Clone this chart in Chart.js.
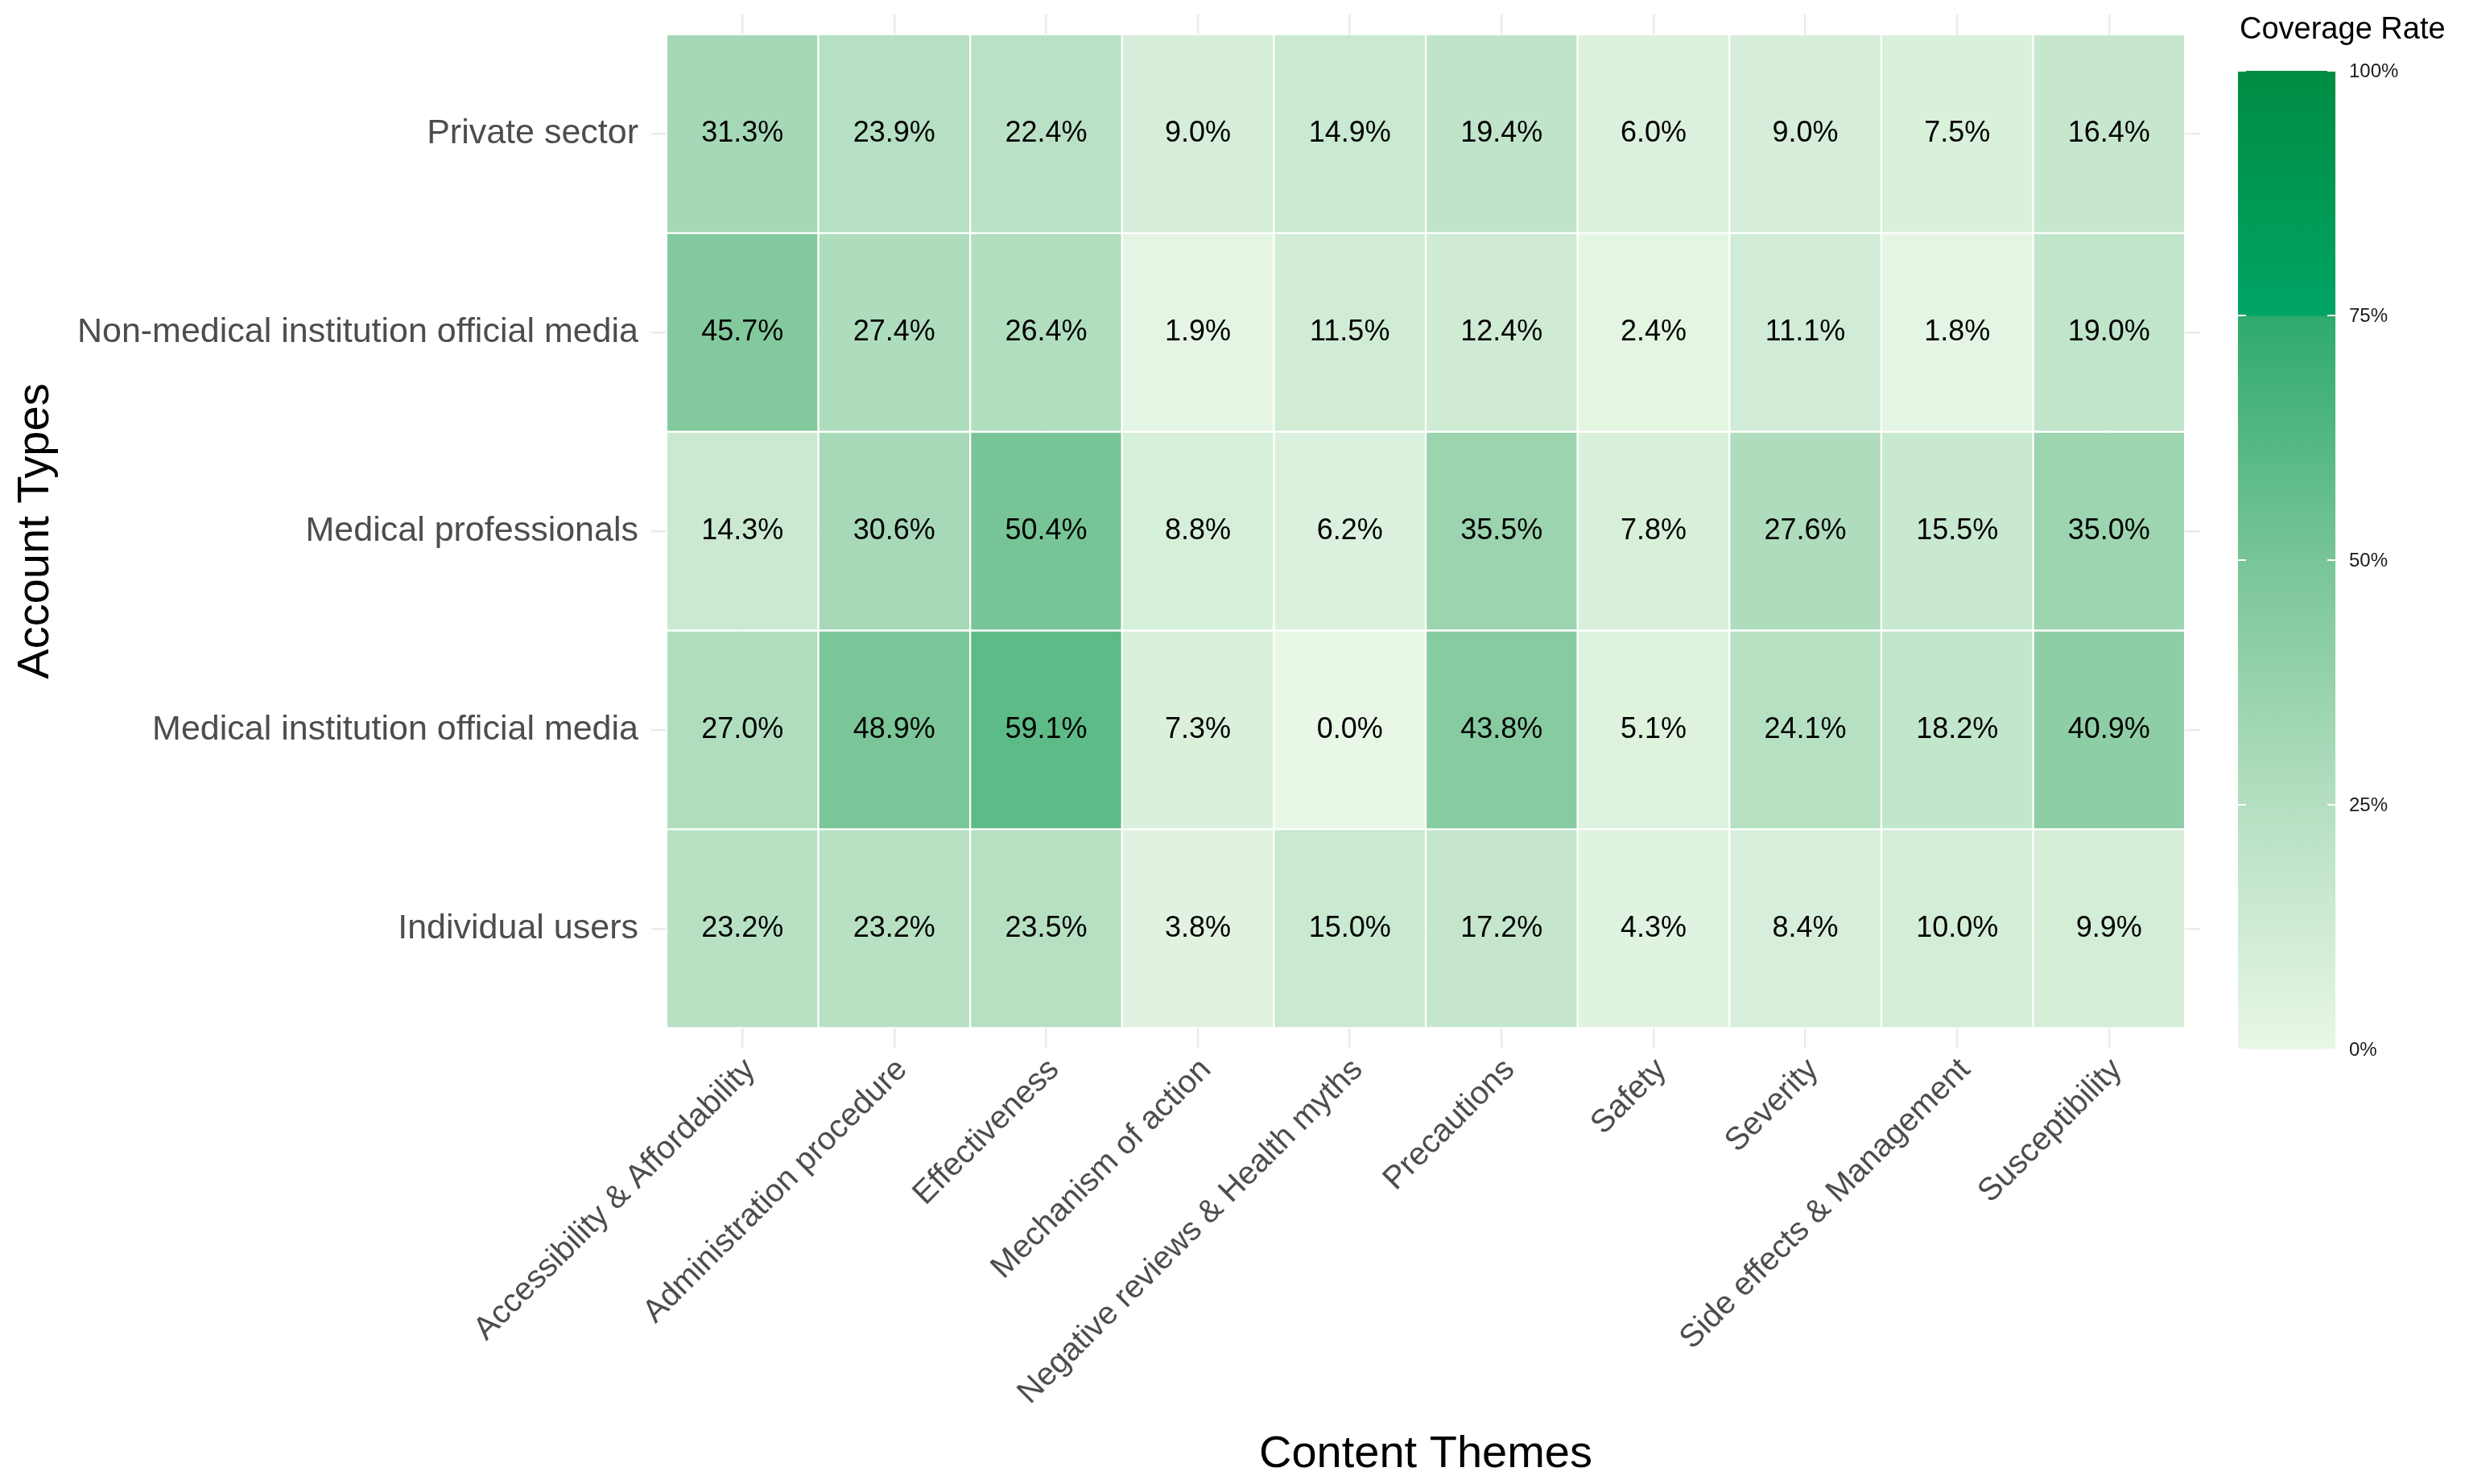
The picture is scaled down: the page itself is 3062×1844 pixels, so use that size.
<!DOCTYPE html>
<html>
<head>
<meta charset="utf-8">
<title>Coverage Rate by Account Type and Content Theme</title>
<script src="https://cdn.jsdelivr.net/npm/chart.js@4.4.1/dist/chart.umd.min.js"></script>
<style>
  html, body { margin: 0; padding: 0; background: #fff; }
  #wrap { width: 3062px; height: 1844px; }
</style>
</head>
<body>
<div id="wrap"><canvas id="heatmap" width="3062" height="1844"></canvas></div>
<script>
// x categories (left to right)
const themes = [
  'Accessibility & Affordability',
  'Administration procedure',
  'Effectiveness',
  'Mechanism of action',
  'Negative reviews & Health myths',
  'Precautions',
  'Safety',
  'Severity',
  'Side effects & Management',
  'Susceptibility'
];

// y categories (bottom to top)
const accountTypes = [
  'Individual users',
  'Medical institution official media',
  'Medical professionals',
  'Non-medical institution official media',
  'Private sector'
];

// coverage rate (%) per theme, one array per account type
const individualUsers       = [23.2, 23.2, 23.5, 3.8, 15.0, 17.2, 4.3, 8.4, 10.0, 9.9];
const medicalInstitution    = [27.0, 48.9, 59.1, 7.3, 0.0, 43.8, 5.1, 24.1, 18.2, 40.9];
const medicalProfessionals  = [14.3, 30.6, 50.4, 8.8, 6.2, 35.5, 7.8, 27.6, 15.5, 35.0];
const nonMedicalInstitution = [45.7, 27.4, 26.4, 1.9, 11.5, 12.4, 2.4, 11.1, 1.8, 19.0];
const privateSector         = [31.3, 23.9, 22.4, 9.0, 14.9, 19.4, 6.0, 9.0, 7.5, 16.4];

const rows = [individualUsers, medicalInstitution, medicalProfessionals, nonMedicalInstitution, privateSector];

// colour bar breaks (%)
const legendBreaks = [0, 25, 50, 75, 100];

const FONT = '"Liberation Sans", Arial, Helvetica, sans-serif';

// colour ramp (fraction 0..1 -> colour)
const rampStops = [
  [0, '#e9f7e6'],
  [0.25, '#b4dfc1'],
  [0.5, '#78c597'],
  [0.749, '#2eaa6c'],
  [0.75, '#00a464'],
  [1, '#008c42']
];

function hexToRgb(h) {
  return [parseInt(h.slice(1, 3), 16), parseInt(h.slice(3, 5), 16), parseInt(h.slice(5, 7), 16)];
}

function rampColor(f) {
  for (let i = 1; i < rampStops.length; i++) {
    const [f1, c1] = rampStops[i];
    const [f0, c0] = rampStops[i - 1];
    if (f <= f1) {
      const t = (f - f0) / (f1 - f0);
      const a = hexToRgb(c0), b = hexToRgb(c1);
      const rgb = a.map((v, k) => Math.round(v + (b[k] - v) * t));
      return 'rgb(' + rgb.join(',') + ')';
    }
  }
  return rampStops[rampStops.length - 1][1];
}

// percentage text inside every cell
const cellLabels = {
  id: 'cellLabels',
  afterDatasetsDraw(chart) {
    const ctx = chart.ctx;
    ctx.save();
    ctx.font = '36px ' + FONT;
    ctx.fillStyle = '#000';
    ctx.textAlign = 'center';
    ctx.textBaseline = 'middle';
    chart.data.datasets.forEach((ds, i) => {
      chart.getDatasetMeta(i).data.forEach((bar, j) => {
        const c = bar.getCenterPoint();
        ctx.fillText(rows[i][j].toFixed(1) + '%', c.x, c.y);
      });
    });
    ctx.restore();
  }
};

// continuous colour bar on the right
const colourBar = {
  id: 'colourBar',
  afterDraw(chart) {
    const ctx = chart.ctx;
    const left = 2780, width = 121, top = 88, bottom = 1304;
    ctx.save();
    const grad = ctx.createLinearGradient(0, bottom, 0, top);
    rampStops.forEach(([f, c]) => grad.addColorStop(f, c));
    ctx.fillStyle = grad;
    ctx.fillRect(left, top, width, bottom - top);

    ctx.font = '24px ' + FONT;
    ctx.textAlign = 'left';
    ctx.textBaseline = 'middle';
    legendBreaks.forEach(b => {
      const y = bottom - (b / 100) * (bottom - top);
      ctx.strokeStyle = '#ffffff';
      ctx.lineWidth = 2;
      ctx.beginPath();
      ctx.moveTo(left, y); ctx.lineTo(left + 10, y);
      ctx.moveTo(left + width - 10, y); ctx.lineTo(left + width, y);
      ctx.stroke();
      ctx.fillStyle = '#1a1a1a';
      ctx.fillText(b + '%', left + width + 17, y + 1);
    });

    ctx.font = '38px ' + FONT;
    ctx.fillStyle = '#000';
    ctx.fillText('Coverage Rate', 2782, 38);
    ctx.restore();
  }
};

const datasets = rows.map((values, r) => ({
  label: accountTypes[r],
  data: values.map((v, j) => ({ x: j + 1, y: [r + 0.5, r + 1.5] })),
  backgroundColor: values.map(v => rampColor(v / 100)),
  borderColor: '#ffffff',
  borderWidth: 1.5,
  borderSkipped: false,
  barPercentage: 1,
  categoryPercentage: 1,
  grouped: false
}));

const ctx = document.getElementById('heatmap').getContext('2d');
const heatmap = new Chart(ctx, {
  type: 'bar',
  data: { datasets: datasets },
  options: {
    responsive: false,
    animation: false,
    devicePixelRatio: 1,
    layout: { padding: { top: 18, right: 329, left: 0, bottom: 0 } },
    plugins: {
      legend: { display: false },
      tooltip: { enabled: false }
    },
    scales: {
      x: {
        type: 'linear',
        min: 0.4,
        max: 10.6,
        offset: false,
        afterBuildTicks: scale => { scale.ticks = themes.map((t, i) => ({ value: i + 1 })); },
        afterFit: scale => {
          scale.height = 542;
          scale.paddingLeft = 0;
          scale.paddingRight = 0;
        },
        grid: { color: '#ebebeb', lineWidth: 2.5, drawTicks: false, offset: false },
        border: { display: false },
        ticks: {
          autoSkip: false,
          minRotation: 45,
          maxRotation: 45,
          padding: 4,
          labelOffset: 10,
          color: '#4d4d4d',
          font: { family: FONT, size: 40 },
          callback: value => themes[value - 1]
        },
        title: {
          display: true,
          text: 'Content Themes',
          color: '#000',
          font: { family: FONT, size: 56 },
          padding: { top: 0, bottom: 3 }
        }
      },
      y: {
        type: 'linear',
        min: 0.4,
        max: 5.6,
        afterBuildTicks: scale => { scale.ticks = accountTypes.map((a, i) => ({ value: i + 1 })); },
        afterFit: scale => {
          scale.width = 809;
          scale.paddingTop = 0;
          scale.paddingBottom = 0;
        },
        grid: { color: '#ebebeb', lineWidth: 2.5, drawTicks: false },
        border: { display: false },
        ticks: {
          padding: 16,
          color: '#4d4d4d',
          font: { family: FONT, size: 43 },
          callback: value => accountTypes[value - 1]
        },
        title: {
          display: true,
          text: 'Account Types',
          color: '#000',
          font: { family: FONT, size: 56 },
          padding: { top: 11, bottom: 0 }
        }
      }
    }
  },
  plugins: [cellLabels, colourBar]
});
</script>
</body>
</html>
